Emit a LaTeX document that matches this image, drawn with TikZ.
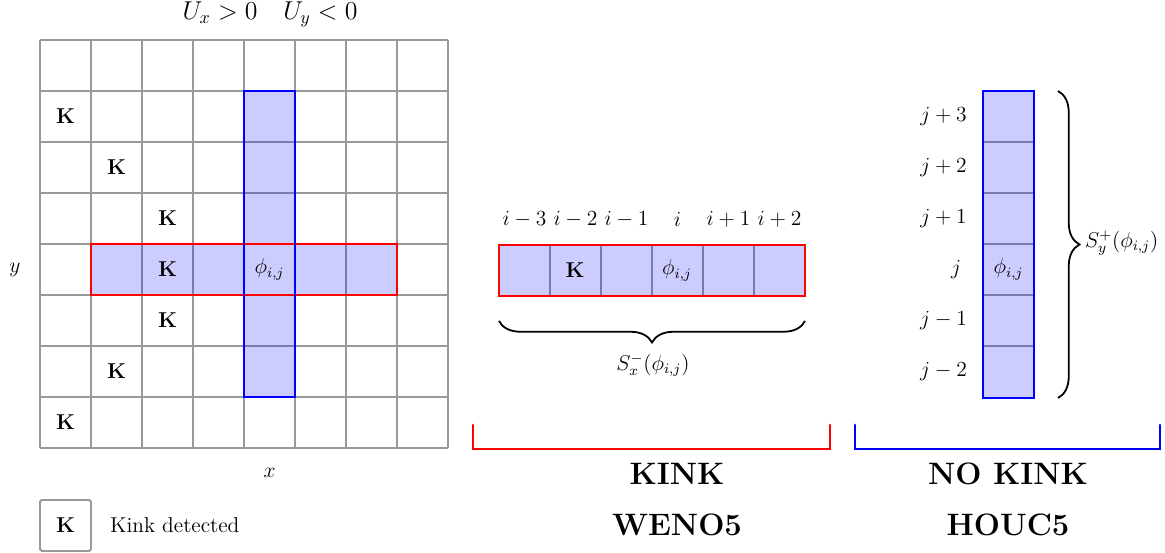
\documentclass[tikz,border=0pt]{standalone}
\usetikzlibrary{decorations.pathreplacing}
\tikzset{
  gridline/.style={draw=gray!80, line width=1.1pt},
  cellfill/.style={fill=blue, fill opacity=0.2},
  redbox/.style={draw=red, line width=1.6pt, line cap=round},
  bluebox/.style={draw=blue, line width=1.6pt, line cap=round},
  txt/.style={font=\fontsize{12}{14.4}\selectfont, inner sep=1pt},
  kmark/.style={font=\fontsize{12}{14.4}\selectfont\bfseries, inner sep=1pt},
  bigtxt/.style={font=\fontsize{17.28}{21}\selectfont\bfseries, inner sep=1pt},
  bracedeco/.style={decorate, decoration={brace, amplitude=12pt}, line width=1pt},
}
\begin{document}
\begin{tikzpicture}[x=0.0196078cm, y=-0.0196078cm]
\useasboundingbox (0,0) rectangle (1165,553);

% ---------- big grid ----------
\foreach \i in {0,...,8} {
  \draw[gridline] (40+51*\i,40) -- (40+51*\i,448);
  \draw[gridline] (40,40+51*\i) -- (448,40+51*\i);
}
\fill[cellfill] (91,244) rectangle (397,295) (244,91) rectangle (295,397);
\draw[redbox] (91,244) rectangle (397,295);
\draw[bluebox] (244,91) rectangle (295,397);

\node[kmark] (k1) at (65.5,116.5) {K};
\node[kmark] (k2) at (116.5,167.5) {K};
\node[kmark] (k3) at (167.5,218.5) {K};
\node[kmark] (k4) at (167.5,269.5) {K};
\node[kmark] (k5) at (167.5,320.5) {K};
\node[kmark] (k6) at (116.5,371.5) {K};
\node[kmark] (k7) at (65.5,422.5) {K};
\node[txt] (phig) at (269.5,269.5) {$\phi_{i,j}$};

\node[txt, font=\fontsize{14.4}{17}\selectfont] (title) at (270,14) {$U_x > 0 \quad U_y < 0$};
\node[txt] (ylab) at (15,269.5) {$y$};
\node[txt] (xlab) at (269.5,473) {$x$};

% ---------- legend ----------
\draw[gridline, rounded corners=1pt] (40,500) rectangle (91,551);
\node[kmark] (klegend) at (65.5,525.5) {K};
\node[txt, anchor=west] (legtext) at (108,525.5) {Kink detected};

% ---------- WENO5 stencil ----------
\foreach \i in {1,...,5} {
  \draw[gridline] (499+51*\i,245) -- (499+51*\i,296);
}
\fill[cellfill] (499,245) rectangle (805,296);
\draw[redbox] (499,245) rectangle (805,296);
\node[kmark] (km) at (575,270.5) {K};
\node[txt] (phim) at (677,270.5) {$\phi_{i,j}$};
\node[txt] (lm3) at (524.5,219) {$i-3$};
\node[txt] (lm2) at (575.5,219) {$i-2$};
\node[txt] (lm1) at (626.5,219) {$i-1$};
\node[txt] (l0) at (677.5,219) {$i$};
\node[txt] (lp1) at (728.5,219) {$i+1$};
\node[txt] (lp2) at (779.5,219) {$i+2$};
\coordinate (bxr) at (805,321);
\coordinate (bxl) at (499,321);
\draw[bracedeco] (bxr) -- (bxl);
\node[txt] (sx) at (653,365) {$S_x^{-}(\phi_{i,j})$};

\draw[redbox] (473,425) -- (473,449) -- (830,449) -- (830,425);
\node[bigtxt] (kink) at (677,474) {KINK};
\node[bigtxt] (weno) at (677,525) {WENO5};

% ---------- HOUC5 stencil ----------
\foreach \i in {1,...,5} {
  \draw[gridline] (983,91+51*\i) -- (1034,91+51*\i);
}
\fill[cellfill] (983,91) rectangle (1034,398);
\draw[bluebox] (983,91) rectangle (1034,398);
\node[txt] (phir) at (1008.5,269.5) {$\phi_{i,j}$};
\node[txt] (jp3) at (943.5,116.5) {$j+3$};
\node[txt] (jp2) at (943.5,167.5) {$j+2$};
\node[txt] (jp1) at (943.5,218.5) {$j+1$};
\node[txt] (j0) at (956,269.5) {$j$};
\node[txt] (jm1) at (943.5,320.5) {$j-1$};
\node[txt] (jm2) at (943.5,371.5) {$j-2$};
\coordinate (byt) at (1058,91);
\coordinate (byb) at (1058,398);
\draw[bracedeco] (byt) -- (byb);
\node[txt, anchor=west] (sy) at (1083,243) {$S_y^{+}(\phi_{i,j})$};

\draw[bluebox] (855,425) -- (855,449) -- (1160,449) -- (1160,425);
\node[bigtxt] (nokink) at (1008,474) {NO KINK};
\node[bigtxt] (houc) at (1008,525) {HOUC5};
\end{tikzpicture}
\end{document}
